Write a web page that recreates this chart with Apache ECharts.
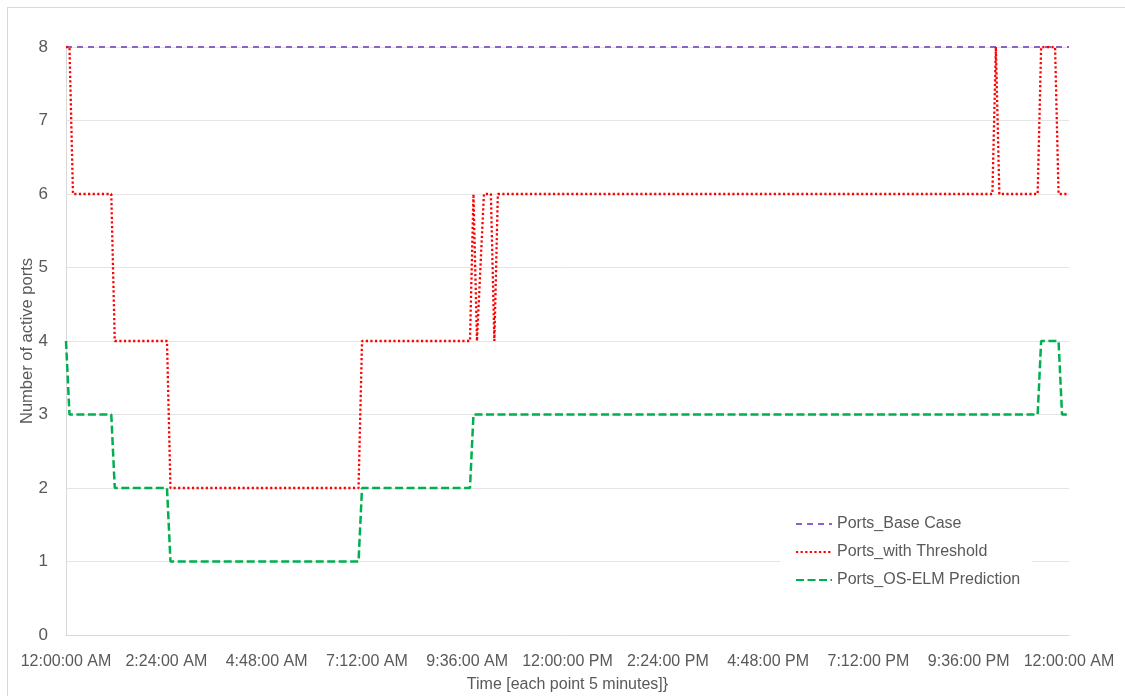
<!DOCTYPE html>
<html>
<head>
<meta charset="utf-8">
<title>Number of active ports</title>
<script src="https://cdn.jsdelivr.net/npm/echarts@6/dist/echarts.min.js"></script>
<style>
    html, body {
        margin: 0;
        padding: 0;
        background: #fff;
    }
    .wrap {
        position: relative;
        width: 1125px;
        height: 696px;
        overflow: hidden;
    }
    .frame {
        position: absolute;
        left: 7px;
        top: 7px;
        width: 1130px;
        height: 700px;
        border: 1px solid #d9d9d9;
        box-sizing: border-box;
        pointer-events: none;
    }
    #chart {
        position: absolute;
        left: 0;
        top: 0;
        width: 1125px;
        height: 696px;
    }
</style>
</head>
<body>
<div class="wrap">
    <div class="frame"></div>
    <div id="chart"></div>
</div>
<script>
// x values are minutes since midnight (one point every 5 minutes), only the break points are listed
const xTickLabels = ['12:00:00 AM', '2:24:00 AM', '4:48:00 AM', '7:12:00 AM', '9:36:00 AM',
    '12:00:00 PM', '2:24:00 PM', '4:48:00 PM', '7:12:00 PM', '9:36:00 PM', '12:00:00 AM'];

const baseTime = [0, 1440];
const basePorts = [8, 8];

const thresholdTime = [0, 5, 10, 65, 70, 145, 150, 420, 425, 580, 585, 590, 600, 610, 615, 620,
    1330, 1335, 1340, 1395, 1400, 1420, 1425, 1440];
const thresholdPorts = [8, 8, 6, 6, 4, 4, 2, 2, 4, 4, 6, 4, 6, 6, 4, 6,
    6, 8, 6, 6, 8, 8, 6, 6];

const predTime = [0, 5, 65, 70, 145, 150, 420, 425, 580, 585, 1395, 1400, 1425, 1430, 1440];
const predPorts = [4, 3, 3, 2, 2, 1, 1, 2, 2, 3, 3, 4, 4, 3, 3];

const zip = (xs, ys) => xs.map((x, i) => [x, ys[i]]);

const font = "'Liberation Sans Narrow', 'Liberation Sans', sans-serif";
const textColor = '#595959';

const chart = echarts.init(document.getElementById('chart'));

const option = {
    animation: false,
    textStyle: { fontFamily: font },
    grid: {
        left: 66,
        right: 56,
        top: 47,
        bottom: 61,
        outerBoundsMode: 'none'
    },
    legend: {
        orient: 'vertical',
        left: 780,
        top: 510,
        padding: [5, 12, 5, 15],
        backgroundColor: '#fff',
        itemWidth: 36,
        itemHeight: 14,
        itemGap: 10,
        itemStyle: { opacity: 0 },
        textStyle: {
            color: textColor,
            fontSize: 16,
            lineHeight: 18,
            fontFamily: font
        },
        data: ['Ports_Base Case', 'Ports_with Threshold', 'Ports_OS-ELM Prediction']
    },
    xAxis: {
        type: 'value',
        min: 0,
        max: 1440,
        interval: 144,
        name: 'Time [each point 5 minutes]}',
        nameLocation: 'middle',
        nameGap: 42,
        nameMoveOverlap: false,
        nameTextStyle: {
            color: textColor,
            fontSize: 16,
            fontFamily: font
        },
        axisLine: {
            show: true,
            lineStyle: { color: '#d9d9d9', width: 1 }
        },
        axisTick: { show: false },
        splitLine: { show: false },
        axisLabel: {
            color: textColor,
            fontSize: 16,
            margin: 19,
            fontFamily: font,
            formatter: (value) => xTickLabels[Math.round(value / 144)]
        }
    },
    yAxis: {
        type: 'value',
        min: 0,
        max: 8,
        interval: 1,
        name: 'Number of active ports',
        nameLocation: 'middle',
        nameGap: 30,
        nameMoveOverlap: false,
        nameTextStyle: {
            color: textColor,
            fontSize: 16.5,
            fontFamily: font
        },
        axisLine: {
            show: true,
            lineStyle: { color: '#d9d9d9', width: 1 }
        },
        axisTick: { show: false },
        axisLabel: {
            color: textColor,
            fontSize: 17,
            margin: 18,
            fontFamily: font
        },
        splitLine: {
            lineStyle: { color: '#e5e5e5', width: 1 }
        }
    },
    series: [
        {
            name: 'Ports_Base Case',
            type: 'line',
            data: zip(baseTime, basePorts),
            showSymbol: false,
            symbol: 'none',
            lineStyle: {
                color: '#8a63c4',
                width: 2,
                type: [6, 5]
            },
            itemStyle: { color: '#8a63c4' },
            z: 2
        },
        {
            name: 'Ports_with Threshold',
            type: 'line',
            data: zip(thresholdTime, thresholdPorts),
            showSymbol: false,
            symbol: 'none',
            lineStyle: {
                color: '#ff0000',
                width: 2.3,
                type: [2.2, 2.4]
            },
            itemStyle: { color: '#ff0000' },
            z: 3
        },
        {
            name: 'Ports_OS-ELM Prediction',
            type: 'line',
            data: zip(predTime, predPorts),
            showSymbol: false,
            symbol: 'none',
            lineStyle: {
                color: '#00b050',
                width: 2.5,
                type: [8, 3.5]
            },
            itemStyle: { color: '#00b050' },
            z: 4
        }
    ]
};

chart.setOption(option);
</script>
</body>
</html>
